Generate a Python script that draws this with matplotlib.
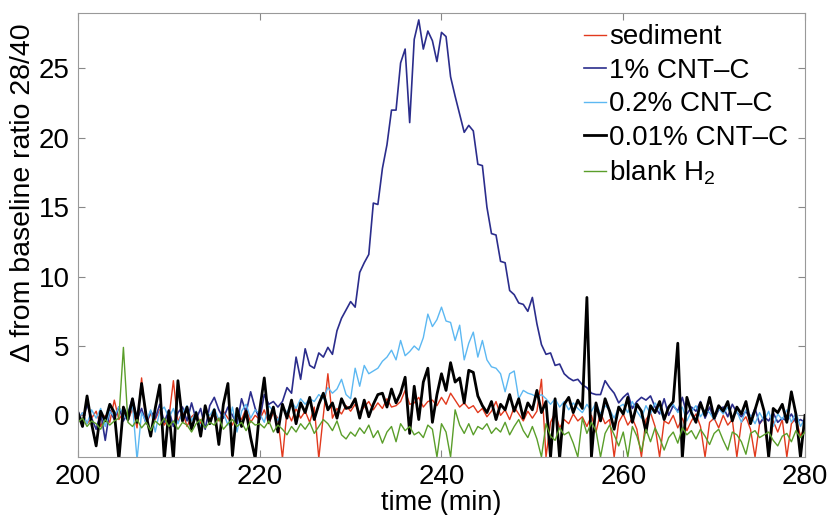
import numpy as np
import matplotlib
matplotlib.use("Agg")
import matplotlib.pyplot as plt

plt.rcParams['font.family'] = ['Liberation Sans', 'DejaVu Sans']
plt.rcParams['mathtext.fontset'] = 'custom'
plt.rcParams['mathtext.rm'] = 'Liberation Sans'

# sample times (min), 0.5 min spacing
time = np.arange(200, 280.5, 0.5)

sediment = [
    -0.4, 0.2, -0.6, -0.2, 0.3, -0.8, 0.0, -0.5, 1.1, -0.3,
    0.2, -0.4, 0.5, -0.9, 2.7, -0.6, 0.1, -0.3, 0.4, -0.7,
    -0.2, 2.5, -0.5, 0.3, -0.8, -0.1, 0.2, -0.6, 0.4, -0.3,
    0.1, -0.4, 0.3, -0.2, -0.7, 0.2, -0.3, 0.5, -0.5, 0.0,
    -0.3, 0.4, -0.6, 0.2, -0.2, -3.1, 0.3, -0.4, 0.5, -0.2,
    0.3, -0.5, 0.6, -3.1, 0.0, 3.0, -0.2, 0.5, 0.1, 0.7,
    0.3, 0.8, 0.2, 0.6, 1.0, 0.4, 0.9, 0.5, 1.2, 0.6,
    0.7, 1.0, 1.8, 0.8, 0.9, 1.3, 0.6, 1.0, 1.1, 0.7,
    1.3, 0.8, 1.6, 1.1, 0.6, 0.9, 0.5, 0.7, 0.2, 0.5,
    -0.1, 0.3, 1.0, 0.0, 0.4, -0.3, 0.6, 0.1, -0.4, 0.3,
    -0.2, 0.3, 2.6, -3.0, -0.5, 0.2, -0.9, -0.3, -0.6, 0.1,
    -0.4, -0.1, -0.8, 0.0, -1.2, 0.2, -0.6, -0.3, -3.0, -0.5,
    0.1, -0.7, -0.2, -1.0, -3.0, -0.3, 0.2, -0.8, -3.0, -0.4,
    -0.6, 0.0, -0.9, -0.2, -1.1, -0.4, 0.1, -0.8, -3.0, -0.5,
    -0.2, -0.9, 0.0, -0.7, -0.3, -3.0, -0.5, -0.1, -1.0, -3.0,
    -0.6, -0.2, -3.0, -0.4, -1.2, -0.3, -3.0, -0.6, -0.2, -1.5,
    -0.8,
]

cnt_1 = [
    0.3, -0.5, 0.8, -0.2, -1.0, 0.2, -1.8, 0.4, -0.3, 0.6,
    -0.4, 0.2, 1.2, -0.3, 0.5, -0.6, 0.3, -0.2, 0.8, -0.5,
    0.4, -0.8, 0.2, 0.6, -0.4, 0.9, -0.3, 0.5, -1.0, 0.7,
    1.3, 0.4, -0.2, 0.6, 0.0, -0.6, 1.2, 0.2, 1.7, 0.5,
    -0.3, 1.5, 0.8, 1.0, 0.6, 1.0, 2.0, 1.6, 4.2, 2.6,
    4.8, 3.6, 3.4, 4.5, 4.2, 4.9, 4.4, 6.1, 7.0, 7.6,
    8.2, 7.8, 10.3, 11.0, 11.6, 15.3, 15.2, 17.8, 19.5, 22.0,
    22.0, 25.4, 26.4, 21.1, 27.1, 28.5, 26.4, 27.7, 27.0, 25.5,
    27.6, 27.3, 24.4, 23.0, 21.7, 20.4, 20.9, 20.5, 18.1, 18.0,
    15.0, 13.1, 13.0, 11.1, 11.0, 9.0, 8.7, 8.1, 8.0, 7.5,
    8.5, 6.6, 5.1, 4.4, 4.5, 3.6, 3.7, 3.0, 2.7, 2.5,
    2.6, 2.2, 2.0, 1.6, 1.5, 1.5, 2.5, 2.0, 1.6, 0.9,
    1.3, 1.6, 0.5, 1.0, 1.3, 1.1, 1.4, 0.6, 0.1, 1.2,
    0.0, 0.7, 0.3, 1.3, 0.1, 0.6, 0.3, 1.0, -0.2, 0.6,
    -0.3, 0.4, 0.6, -0.1, 0.8, 0.2, -0.1, 0.3, -0.3, 0.5,
    -0.6, -0.1, -0.4, 0.2, -0.5, -0.2, -0.4, 0.1, -0.5, -0.3,
    -0.5,
]

cnt_02 = [
    -0.3, 0.2, -0.6, 0.4, -0.2, 0.5, -0.8, 0.3, -0.1, 0.6,
    0.1, -0.4, 0.8, -3.2, 0.2, -0.5, 0.4, -1.2, 0.3, 0.6,
    -0.2, 0.5, -0.6, 0.2, 0.7, -0.4, 0.3, -0.9, 0.4, 0.0,
    0.5, -0.3, 0.2, -0.7, 0.6, -1.2, 0.3, 0.8, -0.2, 0.4,
    0.1, -0.5, 0.7, 0.3, -0.4, 0.6, 0.2, 1.0, 0.5, 1.2,
    0.8, 1.2, 1.0, 1.5, 1.2, 2.0, 1.6, 1.9, 2.6, 1.5,
    1.2, 3.4, 2.1, 3.6, 3.0, 3.2, 3.4, 3.9, 4.2, 4.7,
    4.0, 5.4, 4.3, 4.6, 5.0, 4.7, 5.6, 7.3, 6.4, 6.9,
    7.8, 6.8, 6.7, 5.4, 6.5, 4.0, 5.2, 6.0, 4.2, 5.4,
    4.0, 3.5, 3.4, 3.0, 1.7, 3.0, 3.2, 1.2, 1.8, 1.6,
    1.5, 1.3, 1.5, 1.2, 0.8, 1.2, 0.6, 1.0, 0.4, 0.9,
    0.5, 0.2, 0.8, 0.3, 0.9, 0.1, 0.7, 0.4, -0.2, 0.6,
    0.8, 0.2, 1.0, 0.3, -0.2, 0.7, 0.1, 0.9, 0.4, -0.3,
    0.5, 0.8, 0.2, 0.6, -0.4, 0.3, 0.7, -0.1, 0.4, 0.2,
    -0.3, 0.5, 0.1, 0.6, -0.2, 0.3, -0.5, 0.4, 0.0, -0.6,
    0.2, -0.4, 0.3, -0.8, 0.1, -0.3, 0.4, -0.5, 0.2, -0.8,
    -0.2,
]

cnt_001 = [
    0.2, -0.8, 1.4, -0.6, -2.2, 0.3, -0.4, 0.8, 0.2, -3.2,
    0.6, -0.3, 1.2, -0.5, 2.3, 0.0, -1.5, 0.5, 2.2, -3.2,
    0.3, -3.2, 2.5, -0.4, 0.6, -1.0, 0.2, -1.5, 0.7, -0.6,
    0.4, -2.1, 0.8, 2.3, -2.9, 0.5, -0.8, 0.3, -1.6, -3.1,
    0.4, 2.7, -0.5, 0.6, -1.2, 0.8, -0.2, 1.1, -0.6, 0.9,
    0.2, 1.3, -0.3, 0.8, 1.6, 0.4, 0.9, -0.2, 1.2, 0.5,
    0.6, 1.2, -0.2, 1.1, -0.1, 0.8, 1.5, 1.6, 0.6, 1.9,
    0.9, 1.6, 2.75, -1.3, 2.1, -0.3, 2.4, 3.4, -0.5, 1.5,
    3.0, 1.8, 3.8, 2.4, 2.7, 0.9, 3.25, 3.1, 1.4, 0.7,
    0.2, 1.0, -0.3, 0.8, 0.4, 1.5, 0.3, 1.2, -0.2, 0.9,
    0.4, 1.8, 0.2, 1.0, -3.0, 1.2, -3.1, 0.8, 1.3, 0.2,
    1.1, 0.5, 8.5, -3.0, 0.9, -0.4, 1.2, 0.3, -1.0, 0.6,
    0.1, 1.3, -0.5, 0.8, 0.3, -1.2, 0.7, 0.2, 1.0, -0.3,
    0.6, 1.0, 5.2, -3.1, 1.3, 0.2, -0.5, 0.9, 0.0, 1.3,
    -0.2, 0.7, 0.3, 1.0, -0.4, 0.6, 0.1, 1.0, -0.6, 0.4,
    1.5, 0.3, -3.0, 0.5, 0.2, 0.8, -0.5, 1.7, 0.1, -3.0,
    0.0,
]

blank_h2 = [
    -0.5, -0.2, -0.8, -0.4, -0.6, -1.0, -0.3, -0.7, -0.4, -0.2,
    4.9, -0.5, -0.8, -0.3, -0.9, -0.5, -1.1, -0.4, -0.7, -0.2,
    -0.8, -0.4, -1.0, -0.5, -0.7, -1.2, -0.6, -0.3, -0.9, -0.5,
    -0.7, -0.2, -1.0, -0.6, -0.3, -0.8, -0.5, -1.1, -0.4, -0.7,
    -0.6, -0.9, -0.4, -1.2, -0.7, -1.0, -1.4, -0.8, -1.2, -0.6,
    -1.0, -0.5, -1.3, -0.8, -0.3, -0.6, -1.1, -0.4, -1.4, -1.7,
    -1.2, -1.5, -0.9, -1.3, -0.7, -1.6, -1.1, -2.0, -1.2, -0.8,
    -1.9, -0.6, -1.1, -0.8, -1.4, -1.2, -1.6, -0.7, -1.0, -3.0,
    -0.6, -1.2, -3.0, 0.4, -0.7, -1.3, -0.6, -1.4, -0.8, -1.0,
    -0.6, -1.3, -0.9, -1.2, -0.5, -1.4, -0.8, -0.3, -1.1, -1.6,
    -0.8, -1.7, -3.0, -0.6, -1.5, -1.8, -0.9, -1.4, -1.2, -2.0,
    -3.0, -0.2, -1.3, -0.5, -1.1, -3.0, -1.3, -0.7, -1.4, -2.2,
    -1.2, -3.0, -0.8, -1.5, -2.6, -1.0, -1.9, -0.9, -1.6, -2.5,
    -1.6, -1.2, -2.0, -0.9, -1.4, -1.1, -1.7, -1.0, -1.5, -2.1,
    -1.3, -1.0, -1.8, -2.5, -1.2, -1.4, -1.9, -2.8, -1.3, -1.1,
    -1.6, -1.4, -1.2, -1.8, -2.2, -1.5, -1.3, -1.9, -1.1, -1.6,
    -1.2,
]

labels = ["sediment", "1% CNT\u2013C", "0.2% CNT\u2013C", "0.01% CNT\u2013C", "blank H$_2$"]
colors = ["#e2391d", "#2b2d8c", "#5cb8f2", "#000000", "#5a9e2a"]
widths = [1.0, 1.2, 1.0, 2.0, 1.0]
series = [sediment, cnt_1, cnt_02, cnt_001, blank_h2]

fig = plt.figure(figsize=(8.33, 5.15), dpi=100)
ax = fig.add_axes([0.0936, 0.1126, 0.8728, 0.8622])

for y, lab, c, w in zip(series, labels, colors, widths):
    ax.plot(time, y, color=c, lw=w, label=lab)

ax.set_xlim(200, 280)
ax.set_ylim(-3, 29)
ax.set_xticks([200, 220, 240, 260, 280])
ax.set_yticks([0, 5, 10, 15, 20, 25])
ax.tick_params(direction='in', top=True, right=True, length=5, width=0.8,
               labelsize=20, color='#888888', pad=6)
ax.tick_params(axis='x', pad=5)
for sp in ax.spines.values():
    sp.set_color('#999999')
    sp.set_linewidth(0.8)

ax.set_xlabel("time (min)", fontsize=19.5, labelpad=0)
ax.set_ylabel("\u0394 from baseline ratio 28/40", fontsize=20.5)
ax.yaxis.set_label_coords(-0.058, 0.595)

leg = ax.legend(loc='upper right', frameon=False, fontsize=20,
                handlelength=0.8, handletextpad=0.1, labelspacing=0.27,
                borderaxespad=0.2, bbox_to_anchor=(1.0, 1.012))

fig.savefig("out.png", dpi=100)
